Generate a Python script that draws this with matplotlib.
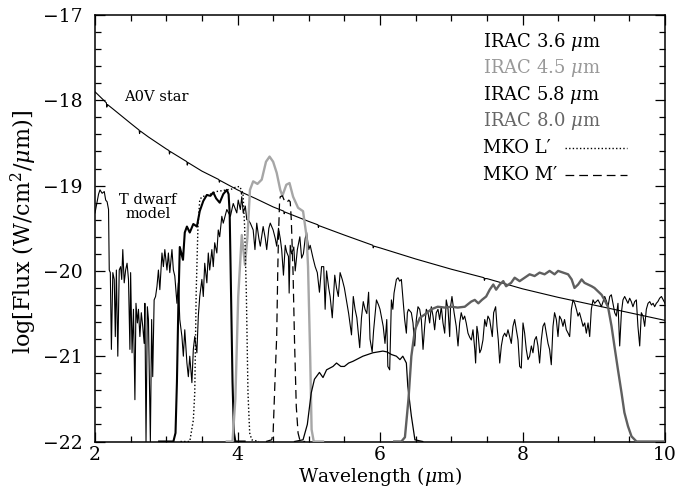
import matplotlib
matplotlib.use("Agg")
import matplotlib.pyplot as plt
from matplotlib.ticker import MultipleLocator

plt.rcParams['font.family'] = ['DejaVu Serif']
plt.rcParams['mathtext.fontset'] = 'dejavuserif'

# ---------------- data ----------------
a0v_wl = [2.00, 2.16, 2.165, 2.175, 2.25, 2.50, 2.62, 2.625, 2.635, 2.75, 3.00, 3.04, 3.045, 3.055,
          3.25, 3.29, 3.295, 3.305, 3.50, 3.74, 3.745, 3.755, 4.00, 4.05, 4.055, 4.065, 4.25, 4.50,
          4.65, 4.655, 4.665, 5.00, 5.13, 5.135, 5.145, 5.50, 5.90, 5.905, 5.915, 6.00, 6.50, 7.00,
          7.46, 7.465, 7.475, 7.50, 8.00, 8.50, 9.00, 9.50, 10.00]
a0v_flux = [-17.90, -18.03, -18.08, -18.05, -18.10, -18.27, -18.35, -18.39, -18.36, -18.43, -18.57,
            -18.59, -18.63, -18.60, -18.70, -18.72, -18.76, -18.73, -18.83, -18.93, -18.96, -18.94,
            -19.05, -19.07, -19.10, -19.08, -19.15, -19.25, -19.30, -19.33, -19.31, -19.42, -19.46,
            -19.49, -19.47, -19.58, -19.70, -19.73, -19.71, -19.73, -19.86, -19.98, -20.08, -20.11,
            -20.09, -20.09, -20.21, -20.31, -20.40, -20.49, -20.58]

tdwarf_wl = [2.00, 2.03, 2.05, 2.07, 2.10, 2.13, 2.15, 2.17, 2.19, 2.20, 2.215, 2.23, 2.25, 2.27,
             2.285, 2.30, 2.32, 2.34, 2.36, 2.375, 2.39, 2.41, 2.43, 2.45, 2.47, 2.49, 2.50, 2.52,
             2.54, 2.56, 2.575, 2.595, 2.61, 2.63, 2.65, 2.67, 2.69, 2.70, 2.716, 2.735, 2.75,
             2.777, 2.795, 2.81, 2.83, 2.85, 2.87, 2.89, 2.91, 2.94, 2.96, 2.98, 3.01, 3.03, 3.05,
             3.08, 3.10, 3.12, 3.15, 3.17, 3.19, 3.22, 3.24, 3.26, 3.29, 3.31, 3.33, 3.36, 3.38,
             3.40, 3.43, 3.45, 3.47, 3.50, 3.52, 3.54, 3.57, 3.59, 3.61, 3.64, 3.66, 3.68, 3.71,
             3.73, 3.75, 3.78, 3.80, 3.85, 3.90, 3.94, 3.99, 4.01, 4.04, 4.06, 4.08, 4.11, 4.13,
             4.15, 4.18, 4.22, 4.245, 4.27, 4.30, 4.32, 4.36, 4.39, 4.41, 4.44, 4.46, 4.50, 4.53,
             4.55, 4.575, 4.60, 4.62, 4.645, 4.67, 4.69, 4.715, 4.725, 4.74, 4.76, 4.79, 4.81,
             4.84, 4.875, 4.90, 4.925, 4.95, 4.97, 5.00, 5.02, 5.06, 5.09, 5.12, 5.15, 5.18, 5.21,
             5.23, 5.25, 5.28, 5.30, 5.33, 5.365, 5.39, 5.415, 5.44, 5.47, 5.50, 5.53, 5.56, 5.60,
             5.625, 5.65, 5.675, 5.715, 5.74, 5.765, 5.79, 5.815, 5.84, 5.86, 5.89, 5.91, 5.95,
             5.98, 6.00, 6.045, 6.07, 6.095, 6.11, 6.136, 6.15, 6.16, 6.18, 6.197, 6.23, 6.253,
             6.276, 6.30, 6.323, 6.346, 6.37, 6.384, 6.40, 6.44, 6.463, 6.487, 6.51, 6.533, 6.557,
             6.58, 6.604, 6.627, 6.65, 6.674, 6.697, 6.72, 6.744, 6.767, 6.79, 6.814, 6.837, 6.86,
             6.884, 6.908, 6.93, 6.955, 6.978, 6.99, 7.01, 7.04, 7.07, 7.095, 7.118, 7.14, 7.165,
             7.188, 7.21, 7.235, 7.26, 7.282, 7.305, 7.33, 7.342, 7.36, 7.375, 7.40, 7.42, 7.445,
             7.47, 7.492, 7.515, 7.539, 7.562, 7.576, 7.595, 7.623, 7.642, 7.66, 7.68, 7.703,
             7.726, 7.75, 7.773, 7.796, 7.82, 7.843, 7.866, 7.89, 7.913, 7.937, 7.96, 7.983, 8.007,
             8.03, 8.053, 8.077, 8.10, 8.124, 8.147, 8.17, 8.194, 8.217, 8.24, 8.264, 8.287, 8.31,
             8.334, 8.358, 8.38, 8.404, 8.428, 8.45, 8.475, 8.498, 8.52, 8.545, 8.568, 8.59, 8.615,
             8.64, 8.662, 8.686, 8.709, 8.733, 8.756, 8.779, 8.80, 8.826, 8.85, 8.873, 8.896, 8.92,
             8.943, 8.966, 8.99, 9.013, 9.035, 9.06, 9.085, 9.107, 9.13, 9.154, 9.18, 9.20, 9.224,
             9.247, 9.27, 9.294, 9.317, 9.34, 9.364, 9.388, 9.41, 9.434, 9.457, 9.48, 9.504, 9.527,
             9.55, 9.575, 9.598, 9.62, 9.645, 9.668, 9.692, 9.715, 9.738, 9.762, 9.786, 9.81,
             9.833, 9.855, 9.878, 9.90, 9.925, 9.95, 9.975, 10.00]
tdwarf_flux = [-19.32, -19.19, -19.10, -19.05, -19.09, -19.07, -19.17, -19.19, -19.28, -19.99,
               -20.02, -20.92, -20.02, -20.10, -20.77, -19.99, -21.00, -19.99, -19.95, -20.10,
               -19.75, -20.14, -19.99, -19.91, -20.10, -20.92, -20.02, -20.96, -20.45, -21.51,
               -20.38, -20.61, -20.45, -20.77, -20.49, -20.65, -20.85, -20.38, -22.00, -20.42,
               -20.57, -22.00, -20.57, -21.24, -20.34, -20.30, -20.18, -19.99, -20.22, -19.79,
               -19.95, -19.75, -19.99, -19.79, -20.02, -19.75, -19.99, -20.06, -20.38, -20.14,
               -20.57, -20.77, -21.00, -20.69, -21.08, -21.24, -21.00, -21.31, -20.92, -20.77,
               -20.96, -20.53, -20.30, -20.10, -20.30, -19.91, -20.14, -19.79, -19.99, -19.75,
               -19.95, -19.67, -19.79, -19.52, -19.60, -19.36, -19.44, -19.28, -19.36, -19.21,
               -19.32, -19.17, -19.28, -19.13, -19.32, -19.24, -19.40,
               -19.40, -19.44, -19.52, -19.75, -19.44, -19.62, -19.71, -19.48, -19.62, -19.75,
               -19.50, -19.44, -19.52, -19.62, -19.71, -19.50, -19.62, -19.75, -20.05, -19.70,
               -19.78, -19.83, -20.26, -19.70, -19.80, -19.72, -20.00, -19.75, -19.60, -19.85,
               -19.80, -19.62, -19.55, -19.75, -19.70, -19.85, -19.95, -20.02, -20.25, -19.95,
               -19.95, -20.45, -20.00, -20.20, -20.30, -20.55, -20.05, -20.20, -20.30, -20.02,
               -20.10, -20.20, -20.35, -20.50, -20.75, -20.30, -20.45, -20.55, -20.90, -20.55,
               -20.36, -20.45, -20.50, -20.25, -20.80, -20.95, -20.70, -20.34, -20.40, -20.45,
               -20.65, -20.85, -20.57, -21.12, -21.16, -20.65, -20.34, -20.45, -20.26, -20.10,
               -20.08, -20.12, -20.10, -20.34, -20.57, -20.73, -20.49, -20.45, -20.49, -20.61,
               -20.88, -20.57, -20.42, -20.45, -20.57, -20.92, -20.65, -20.45, -20.49, -20.61,
               -20.42, -20.53, -20.69, -20.49, -20.45, -20.57, -20.42, -20.61, -20.73, -20.34,
               -20.45, -20.77, -20.42, -20.30, -20.49, -20.65, -20.88, -20.61, -20.49, -20.57,
               -20.53, -20.61, -20.73, -20.78, -20.81, -20.69, -20.92, -21.08, -20.65, -20.73,
               -20.96, -20.92, -20.81, -20.57, -20.65, -20.53, -20.57, -20.69, -20.77, -20.49,
               -20.42, -20.65, -20.81, -21.08, -20.88, -20.77, -20.73, -20.77, -20.69, -20.77,
               -20.85, -20.65, -20.57, -20.69, -20.81, -21.12, -21.14, -20.61, -20.73, -20.92,
               -21.04, -21.00, -20.88, -20.96, -20.81, -20.77, -20.88, -21.08, -20.81, -20.65,
               -20.61, -20.73, -20.85, -20.92, -21.10, -20.65, -20.49, -20.57, -20.77, -20.53,
               -20.57, -20.65, -20.57, -20.69, -20.73, -20.77, -20.45, -20.34, -20.38, -20.45,
               -20.53, -20.49, -20.57, -20.65, -20.61, -20.73, -20.61, -20.77, -20.45, -20.34,
               -20.38, -20.36, -20.34, -20.38, -20.42, -20.36, -20.30, -20.36, -20.42, -20.30,
               -20.28, -20.38, -20.49, -20.53, -20.38, -20.88, -20.49, -20.34, -20.30, -20.34,
               -20.38, -20.32, -20.36, -20.42, -20.36, -20.34, -20.65, -20.88, -20.49, -20.53,
               -20.65, -20.45, -20.38, -20.36, -20.40, -20.38, -20.42, -20.38, -20.36, -20.32,
               -20.30, -20.34, -20.38]

irac36_wl = [2.90, 3.10, 3.13, 3.15, 3.17, 3.19, 3.235, 3.26, 3.29, 3.33, 3.38, 3.43, 3.47, 3.52,
             3.57, 3.62, 3.66, 3.70, 3.75, 3.80, 3.85, 3.875, 3.89, 3.91, 3.93, 3.95, 3.97, 4.10]
irac36_flux = [-22.0, -22.0, -21.9, -21.3, -20.4, -19.72, -19.87, -19.55, -19.48, -19.55, -19.45,
               -19.48, -19.30, -19.18, -19.11, -19.12, -19.08, -19.15, -19.20, -19.10, -19.05,
               -19.10, -19.32, -20.3, -21.3, -21.9, -22.0, -22.0]

irac45_wl = [3.85, 3.93, 3.97, 4.01, 4.06, 4.105, 4.14, 4.175, 4.22, 4.28, 4.34, 4.40, 4.45, 4.50,
             4.55, 4.60, 4.63, 4.685, 4.73, 4.78, 4.85, 4.92, 4.97, 4.99, 5.02, 5.04, 5.07, 5.20]
irac45_flux = [-22.0, -22.0, -21.5, -20.3, -19.58, -19.93, -19.6, -19.05, -18.95, -18.98, -18.93,
               -18.72, -18.66, -18.72, -18.85, -19.05, -19.12, -18.99, -18.97, -19.13, -19.26,
               -19.30, -19.6, -19.95, -21.0, -21.86, -22.0, -22.0]

irac58_wl = [4.80, 4.92, 4.98, 5.035, 5.08, 5.15, 5.20, 5.25, 5.34, 5.39, 5.45, 5.50, 5.56, 5.62,
             5.69, 5.76, 5.83, 5.90, 5.97, 6.04, 6.10, 6.16, 6.23, 6.28, 6.32, 6.37, 6.39, 6.44,
             6.49, 6.60]
irac58_flux = [-22.0, -21.98, -21.8, -21.43, -21.27, -21.19, -21.25, -21.16, -21.12, -21.08, -21.12,
               -21.12, -21.08, -21.06, -21.03, -21.00, -20.98, -20.96, -20.95, -20.94, -20.95,
               -20.98, -21.00, -21.04, -21.00, -21.08, -21.35, -21.70, -21.98, -22.0]

irac80_wl = [6.20, 6.30, 6.35, 6.40, 6.44, 6.49, 6.56, 6.63, 6.72, 6.81, 6.91, 7.00, 7.09, 7.19,
             7.28, 7.33, 7.38, 7.43, 7.49, 7.54, 7.59, 7.63, 7.68, 7.73, 7.77, 7.84, 7.89, 7.96,
             8.03, 8.10, 8.17, 8.24, 8.31, 8.38, 8.45, 8.50, 8.57, 8.64, 8.69, 8.73, 8.78, 8.83,
             8.87, 8.92, 8.97, 9.01, 9.06, 9.11, 9.15, 9.20, 9.25, 9.29, 9.34, 9.39, 9.43, 9.48,
             9.53, 9.60, 10.0]
irac80_flux = [-22.0, -22.0, -21.95, -21.5, -21.0, -20.69, -20.55, -20.51, -20.45, -20.42, -20.43,
               -20.42, -20.43, -20.42, -20.36, -20.34, -20.38, -20.34, -20.30, -20.22, -20.16,
               -20.22, -20.16, -20.12, -20.18, -20.14, -20.08, -20.12, -20.08, -20.04, -20.06,
               -20.02, -20.04, -20.00, -20.04, -20.00, -20.02, -20.04, -20.10, -20.20, -20.16,
               -20.10, -20.14, -20.16, -20.18, -20.20, -20.24, -20.28, -20.34, -20.42, -20.65,
               -20.88, -21.16, -21.43, -21.66, -21.82, -21.94, -22.0, -22.0]

mkoL_wl = [3.20, 3.33, 3.35, 3.38, 3.40, 3.42, 3.445, 3.47, 3.50, 3.55, 3.62, 3.70, 3.78, 3.85,
           3.92, 3.97, 4.03, 4.077, 4.10, 4.124, 4.147, 4.171, 4.20, 4.30]
mkoL_flux = [-22.0, -22.0, -21.90, -21.75, -21.43, -20.26, -19.48, -19.17, -19.13, -19.12, -19.10,
             -19.07, -19.06, -19.05, -19.04, -19.02, -19.01, -19.09, -19.48, -20.26, -21.43,
             -21.90, -21.98, -22.0]

mkoM_wl = [4.40, 4.48, 4.50, 4.53, 4.55, 4.565, 4.575, 4.59, 4.60, 4.63, 4.66, 4.69, 4.72, 4.74,
           4.755, 4.78, 4.80, 4.825, 4.85, 4.88, 4.95]
mkoM_flux = [-22.0, -21.98, -21.9, -21.2, -20.77, -20.0, -19.60, -19.2, -19.13, -19.12, -19.18,
             -19.20, -19.17, -19.19, -19.40, -20.03, -20.81, -21.59, -21.9, -22.0, -22.0]

legend_labels = [r'IRAC 3.6 $\mu$m', r'IRAC 4.5 $\mu$m', r'IRAC 5.8 $\mu$m',
                 r'IRAC 8.0 $\mu$m', "MKO L\u2032", "MKO M\u2032"]
x_ticks = [2, 4, 6, 8, 10]
y_ticks = [-22, -21, -20, -19, -18, -17]

# ---------------- figure ----------------
W, H = 689, 488
fig = plt.figure(figsize=(W / 100, H / 100), dpi=100)
ax = fig.add_axes([95 / W, 1 - 441.5 / H, 570 / W, 426.5 / H])

c_45 = '#a6a6a6'
c_80 = '#5f5f5f'

ax.plot(a0v_wl, a0v_flux, color='black', lw=0.8, zorder=3)
ax.plot(tdwarf_wl, tdwarf_flux, color='black', lw=0.8, zorder=3)
ax.plot(irac36_wl, irac36_flux, color='black', lw=1.5, zorder=4)
ax.plot(irac45_wl, irac45_flux, color=c_45, lw=1.7, zorder=4)
ax.plot(irac58_wl, irac58_flux, color='black', lw=0.9, zorder=4)
ax.plot(irac80_wl, irac80_flux, color=c_80, lw=1.7, zorder=4)
ax.plot(mkoL_wl, mkoL_flux, color='black', lw=1.0, linestyle=(0, (1, 1.6)), zorder=4)
ax.plot(mkoM_wl, mkoM_flux, color='black', lw=0.9, linestyle=(0, (7, 4)), zorder=4)

ax.set_xlim(2, 10)
ax.set_ylim(-22, -17)
ax.set_xticks(x_ticks)
ax.set_yticks(y_ticks)
ax.xaxis.set_minor_locator(MultipleLocator(0.5))
ax.yaxis.set_minor_locator(MultipleLocator(0.2))
ax.tick_params(which='both', direction='in', top=True, right=True, width=0.9, color='black')
ax.tick_params(which='major', length=7.5, labelsize=13.5)
ax.tick_params(which='minor', length=4)
ax.tick_params(axis='x', which='major', pad=3)
ax.tick_params(axis='y', which='major', pad=9)
for s in ax.spines.values():
    s.set_linewidth(1.1)

ax.set_xlabel(r'Wavelength ($\mu$m)', fontsize=13.5)
ax.set_ylabel(r'log[Flux (W/cm$^2$/$\mu$m)]', fontsize=16)
ax.xaxis.set_label_coords(0.5, -0.054)
ax.yaxis.set_label_coords(-0.098, 0.491)

# annotations
ax.text(2.41, -17.96, 'A0V star', fontsize=10.5, ha='left', va='center')
ax.text(2.74, -19.25, 'T dwarf\nmodel', fontsize=10.5, ha='center', va='center',
        multialignment='center', linespacing=1.05)

# legend (text coloured like curves)
colors = ['black', '#999999', 'black', '#666666', 'black', 'black']
ys = [0.937, 0.875, 0.812, 0.752, 0.687, 0.626]
for lab, col, yy in zip(legend_labels, colors, ys):
    ax.text(0.68, yy, lab, transform=ax.transAxes, fontsize=13, color=col,
            ha='left', va='center')
ax.plot([0.8246, 0.9333], [ys[4], ys[4]], transform=ax.transAxes, color='black',
        lw=1.0, linestyle=(0, (1, 1.6)))
ax.plot([0.8246, 0.9333], [ys[5], ys[5]], transform=ax.transAxes, color='black',
        lw=0.9, linestyle=(0, (7, 4)))

fig.savefig('out.png', dpi=100)
